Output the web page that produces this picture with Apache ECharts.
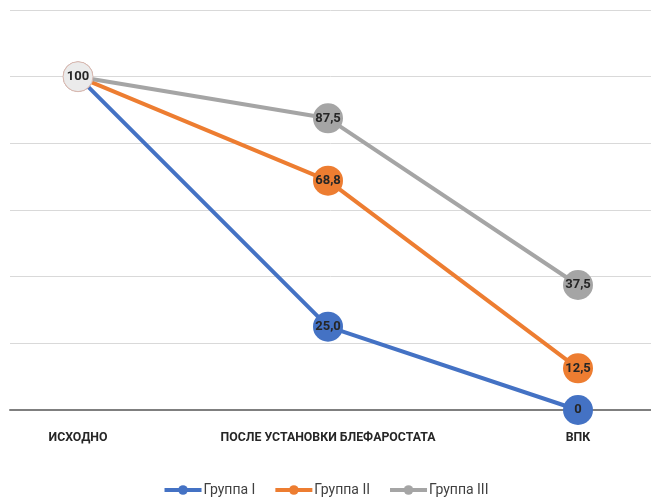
<!DOCTYPE html>
<html>
<head>
<meta charset="utf-8">
<script src="https://cdn.jsdelivr.net/npm/echarts@6/dist/echarts.min.js"></script>
<style>
  html, body { margin: 0; padding: 0; background: #ffffff; }
  #chart { width: 651px; height: 498px; }
</style>
</head>
<body>
<div id="chart"></div>
<script>
// Stages of the measurement
const categories = ['ИСХОДНО', 'ПОСЛЕ УСТАНОВКИ БЛЕФАРОСТАТА', 'ВПК'];

// Values per group (%)
const group1 = [100, 25.0, 0];
const group2 = [100, 68.8, 12.5];
const group3 = [100, 87.5, 37.5];

const seriesNames = ['Группа I', 'Группа II', 'Группа III'];
const seriesColors = ['#4472C4', '#ED7D31', '#A5A5A5'];

const FONT = "Roboto, 'DejaVu Sans Condensed', sans-serif";

function fmt(v) {
  if (v === 100 || v === 0) return String(v);
  return v.toFixed(1).replace('.', ',');
}

function makeSeries(name, data, color, idx) {
  return {
    name: name,
    type: 'line',
    xAxisIndex: 0,
    yAxisIndex: 0,
    data: data.map((v, i) => {
      const item = { value: v };
      // the shared starting point is shown with a pale marker
      if (i === 0 && idx === 2) {
        item.itemStyle = { color: '#ebebeb', borderColor: '#d8b8b0', borderWidth: 1 };
      }
      return item;
    }),
    symbol: 'circle',
    symbolSize: 30,
    lineStyle: { color: color, width: 4 },
    itemStyle: { color: color },
    z: 2 + idx,
    label: {
      show: true,
      position: 'inside',
      formatter: p => fmt(p.value),
      fontFamily: FONT,
      fontWeight: 'bold',
      fontSize: 13,
      color: '#262626'
    },
    emphasis: { disabled: true },
    animation: false
  };
}

const chart = echarts.init(document.getElementById('chart'), null, { renderer: 'canvas' });

chart.setOption({
  backgroundColor: '#ffffff',
  animation: false,
  legend: {
    bottom: 1,
    left: 'center',
    padding: 0,
    itemWidth: 37,
    itemHeight: 12,
    itemGap: 18,
    lineStyle: { width: 4 },
    textStyle: { fontFamily: FONT, fontSize: 14, color: '#404040', padding: [0, 0, 0, -3] },
    data: seriesNames
  },
  grid: [
    { left: 78, right: 73, top: 10, bottom: 88 },
    { left: 10, right: 0, top: 10, bottom: 88 }
  ],
  xAxis: [
    {
      type: 'category',
      gridIndex: 0,
      data: categories,
      boundaryGap: false,
      axisLine: { show: false },
      axisTick: { show: false },
      axisLabel: {
        interval: 0,
        margin: 22,
        fontFamily: FONT,
        fontWeight: 'bold',
        fontSize: 12.3,
        color: '#262626'
      }
    },
    {
      type: 'value',
      gridIndex: 1,
      min: 0,
      max: 1,
      axisLine: { show: true, lineStyle: { color: '#7f7f7f', width: 2 } },
      axisTick: { show: false },
      axisLabel: { show: false },
      splitLine: { show: false }
    }
  ],
  yAxis: [
    {
      type: 'value',
      gridIndex: 0,
      min: 0,
      max: 120,
      interval: 20,
      axisLine: { show: false },
      axisTick: { show: false },
      axisLabel: { show: false },
      splitLine: { show: false }
    },
    {
      type: 'value',
      gridIndex: 1,
      min: 0,
      max: 120,
      interval: 20,
      axisLine: { show: false },
      axisTick: { show: false },
      axisLabel: { show: false },
      splitLine: { show: true, lineStyle: { color: '#d9d9d9', width: 1 } }
    }
  ],
  series: [
    makeSeries(seriesNames[0], group1, seriesColors[0], 0),
    makeSeries(seriesNames[1], group2, seriesColors[1], 1),
    makeSeries(seriesNames[2], group3, seriesColors[2], 2)
  ]
});
</script>
</body>
</html>
